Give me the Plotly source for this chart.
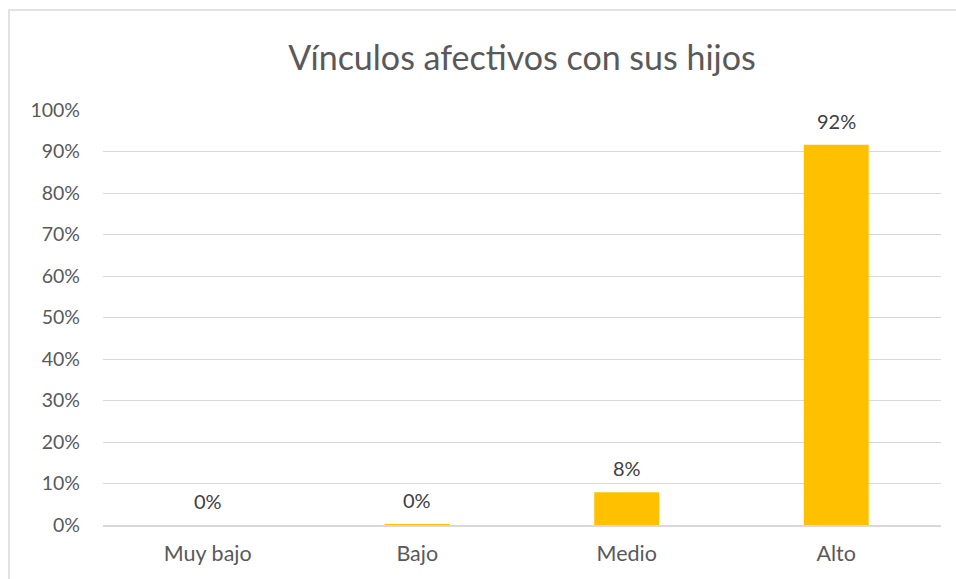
import plotly.graph_objects as go

categories = ["Muy bajo", "Bajo", "Medio", "Alto"]
values = [0.0, 0.002, 0.079, 0.916]
tick_vals = [i / 10 for i in range(11)]
tick_text = [f"{i*10}%" for i in range(11)]
title = "Vínculos afectivos con sus hijos"

W, H = 956, 579
ml, mr, mt, mb = 103, 15, 110, 54

fig = go.Figure(go.Bar(
    x=categories, y=values,
    marker=dict(color="#FFC000", line=dict(width=0)),
    hoverinfo="x+y",
))

for c, v in zip(categories, values):
    fig.add_annotation(x=c, y=v, text=f"{v:.0%}", showarrow=False,
                       yanchor="middle", yshift=24,
                       font=dict(size=20, color="#404040"))

pw = W - ml - mr
ph = H - mt - mb
x0 = (9 - ml) / pw
x1 = (W + 5 - ml) / pw
y1 = (H - 10 - mb) / ph
y0 = (-10 - mb) / ph
fig.add_shape(type="rect", xref="paper", yref="paper", x0=x0, x1=x1, y0=y0, y1=y1,
              line=dict(color="#D9D9D9", width=1.5), fillcolor="rgba(0,0,0,0)", layer="below")

fig.update_layout(
    width=W, height=H,
    margin=dict(l=ml, r=mr, t=mt, b=mb),
    paper_bgcolor="white", plot_bgcolor="white",
    font=dict(family="Lato, Open Sans, sans-serif", color="#595959", size=20),
    title=dict(text=title, x=0.5, xref="paper", xanchor="center", y=1 - 58 / H, yanchor="middle",
               font=dict(size=34, color="#595959")),
    bargap=0.69,
    showlegend=False,
    xaxis=dict(showgrid=False, showline=True, linecolor="#D9D9D9", linewidth=1.5,
               ticks="", tickfont=dict(size=21.5, color="#595959"), ticklabelstandoff=8),
    yaxis=dict(range=[0, 1], tickvals=tick_vals, ticktext=tick_text, showgrid=True,
               gridcolor="#D9D9D9", gridwidth=1.2, zeroline=False, showline=False,
               ticks="", tickfont=dict(size=19.5, color="#595959"), ticklabelstandoff=22),
)

fig.write_html("out.html", config={"displayModeBar": False},
               post_script="document.body.style.margin='0';document.body.style.overflow='hidden';")
